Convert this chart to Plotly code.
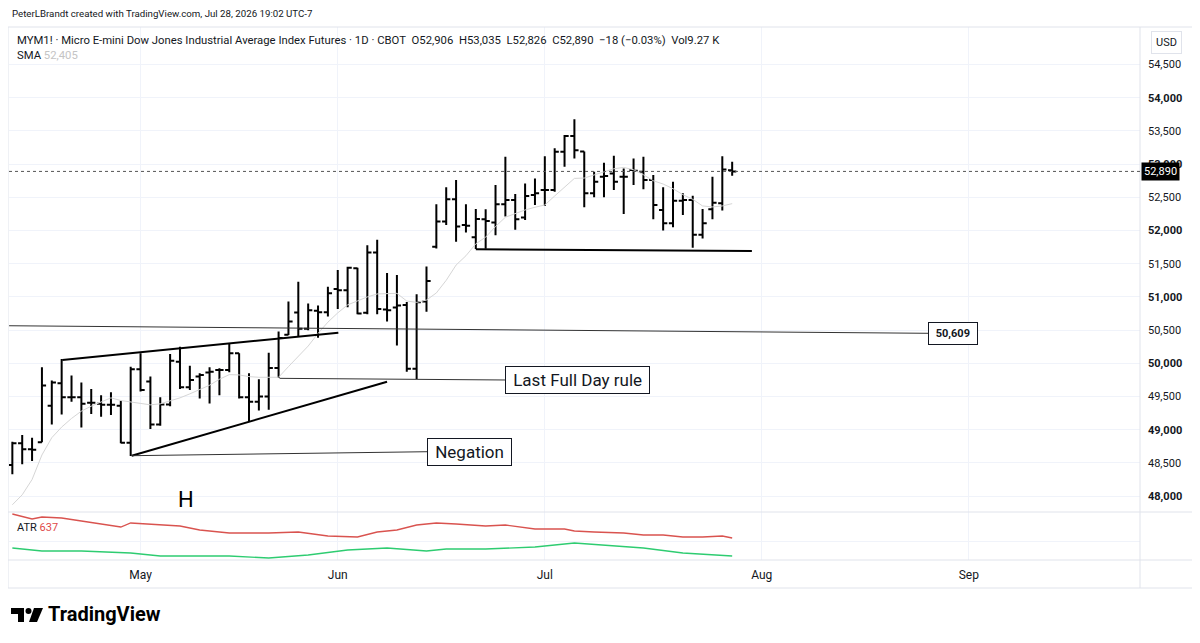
import pandas as pd
import plotly.graph_objects as go

# daily bars, Apr 14 2026 .. Jul 29 2026
opens = [48470, 48795, 48705, 48810, 49360, 49700, 49490, 49490, 49405, 49390,
         49375, 49360, 48805, 49910, 49725, 49080, 49380, 50025, 49640, 49800,
         49860, 49900, 49900, 50150, 49490, 49420, 49500, 49930, 50430, 50765,
         50520, 50790, 50770, 51120, 51100, 51430, 50760, 51670, 50810, 50840,
         50880, 49920, 50930, 51755, 52135, 52470, 52085, 51900, 52170, 52120,
         52395, 52460, 52195, 52535, 52610, 52610, 53185, 53425, 53190, 52560,
         52810, 52860, 52810, 52910, 52885, 52760, 52310, 52110, 52450, 52460,
         51935, 52320, 52410, 52906]
highs = [48820, 48920, 48880, 49940, 49740, 50065, 49815, 49710, 49615, 49520,
         49565, 49435, 49950, 50150, 49800, 49490, 50140, 50250, 49965, 49850,
         49940, 49925, 50290, 50150, 49850, 49760, 50160, 50480, 50930, 51230,
         50900, 50870, 51155, 51405, 51455, 51440, 51780, 51860, 51360, 51330,
         50925, 51040, 51460, 52395, 52650, 52760, 52395, 52325, 52320, 52685,
         53110, 52550, 52710, 52785, 53120, 53240, 53440, 53675, 53190, 52885,
         53020, 53125, 52935, 53085, 53110, 52835, 52650, 52735, 52560, 52525,
         52325, 52810, 53120, 53035]
lows = [48330, 48480, 48530, 48810, 49080, 49230, 49420, 49035, 49235, 49195,
        49220, 48795, 48605, 49575, 49010, 49060, 49355, 49615, 49600, 49470,
        49395, 49520, 49865, 49470, 49130, 49290, 49300, 49780, 50425, 50400,
        50500, 50385, 50705, 50820, 50845, 50740, 50740, 50740, 50630, 50270,
        49875, 49765, 50775, 51730, 52085, 51830, 51970, 51720, 51725, 51930,
        52210, 52010, 52160, 52385, 52370, 52585, 52960, 53085, 52350, 52500,
        52500, 52610, 52250, 52685, 52620, 52170, 52000, 52050, 52235, 51740,
        51880, 52170, 52300, 52826]
closes = [48795, 48705, 48700, 49665, 49710, 49490, 49490, 49390, 49405, 49375,
          49375, 48805, 49910, 49600, 49080, 49380, 50040, 49640, 49750, 49825,
          49875, 49900, 50150, 49490, 49420, 49500, 49930, 50380, 50630, 50520,
          50800, 50770, 51055, 51100, 51440, 50750, 51670, 50820, 50800, 50870,
          49920, 50920, 51240, 52135, 52470, 52060, 52070, 52175, 52145, 52395,
          52460, 52170, 52520, 52560, 52610, 53185, 53425, 53210, 52560, 52735,
          52820, 52735, 52810, 52900, 52760, 52385, 52110, 52450, 52460, 51935,
          52110, 52420, 52920, 52890]
sma = [47870, 48020, 48250, 48620, 48880, 49040, 49170, 49280, 49355, 49420,
       49480, 49440, 49422, 49400, 49375, 49390, 49430, 49480, 49540, 49610,
       49670, 49760, 49830, 49825, 49800, 49790, 49790, 49790, 49950, 50110,
       50260, 50450, 50620, 50760, 50880, 50940, 51000, 51045, 51055, 51054,
       50938, 50918, 50953, 51060, 51250, 51480, 51620, 51800, 51900, 52060,
       52200, 52260, 52310, 52350, 52385, 52520, 52660, 52785, 52790, 52840,
       52885, 52930, 52950, 52915, 52840, 52750, 52700, 52630, 52540, 52470,
       52370, 52355, 52370, 52405]

# lower pane lines, sampled at bar indexes
atr_idx = [0, 2, 3, 5, 7, 11, 12, 14, 17, 19, 22, 26, 29, 32, 35, 37, 39, 41,
           43, 45, 48, 50, 53, 56, 57, 59, 62, 64, 66, 68, 70, 72, 73]
atr_vals = [877, 827, 847, 837, 807, 747, 787, 777, 757, 717, 687, 687, 697, 657,
            647, 697, 717, 767, 787, 777, 757, 767, 727, 727, 707, 697, 687, 667,
            667, 647, 647, 657, 637]
atr2_idx = [0, 3, 7, 12, 15, 22, 26, 30, 34, 38, 42, 44, 48, 53, 57, 61, 64, 68, 73]
atr2_vals = [537, 507, 507, 487, 457, 457, 437, 467, 517, 537, 507, 527, 527, 547,
             587, 557, 537, 487, 457]

holidays = ["2026-05-25", "2026-06-19", "2026-07-03", "2026-09-07"]
month_labels = ["May", "Jun", "Jul", "Aug", "Sep"]
price_ticks = [48000, 48500, 49000, 49500, 50000, 50500, 51000, 51500,
               52000, 52500, 53000, 53500, 54000, 54500]

# hand drawn lines: (bar index list, price list)
wedge_top = ([5.07, 33.06], [50050, 50461])
wedge_bottom = ([12.1, 38.0], [48609, 49723])
negation_line = ([12.1, 42.1], [48609, 48669])
lastday_line = ([27.1, 50.0], [49774, 49749])
support_line = ([47.0, 75.0], [51717, 51691])
level_line = ([-0.33, 92.9], [50566, 50452])
last_price = 52890

INK = "#131722"
GRID = "#f0f3fa"
BORDER = "#e0e3eb"
FONT = "Roboto"

# plot area in screen pixels; the page body adds an 8px offset
OFF = 8
L, R, T, B = 9, 1140, 27, 560
FIG_W, FIG_H = 1200 - OFF, 643 - OFF


def px(x):
    return (x - L) / (R - L)


def py(y):
    return (B - y) / (B - T)


days = pd.bdate_range("2026-04-14", "2026-09-30")
days = days[~days.isin(pd.to_datetime(holidays))]
month_idx = [i for i in range(1, len(days)) if days[i].month != days[i - 1].month]
bar_x = list(range(len(closes)))

fig = go.Figure()
fig.add_trace(go.Scatter(x=bar_x, y=sma, mode="lines",
                         line=dict(color="#d6d6d6", width=1), hoverinfo="skip"))
fig.add_trace(go.Ohlc(x=bar_x, open=opens, high=highs, low=lows, close=closes,
                      text=[d.strftime("%b %d") for d in days[:len(closes)]],
                      increasing_line=dict(color="#000000", width=2),
                      decreasing_line=dict(color="#000000", width=2),
                      tickwidth=0.42))

for line, w, c in [(wedge_top, 2, "#000000"), (wedge_bottom, 2, "#000000"),
                   (support_line, 2, "#000000"), (negation_line, 1, "#333333"),
                   (lastday_line, 1, "#333333"), (level_line, 1, "#333333")]:
    fig.add_trace(go.Scatter(x=line[0], y=line[1], mode="lines",
                             line=dict(color=c, width=w), hoverinfo="skip"))

fig.add_trace(go.Scatter(x=atr_idx, y=atr_vals, mode="lines", xaxis="x2", yaxis="y2",
                         line=dict(color="#d9534f", width=1.3), hoverinfo="skip"))
fig.add_trace(go.Scatter(x=atr2_idx, y=atr2_vals, mode="lines", xaxis="x2", yaxis="y2",
                         line=dict(color="#2ecc71", width=1.3), hoverinfo="skip"))

pane_split = py(512)
fig.update_layout(
    width=FIG_W, height=FIG_H,
    margin=dict(l=L - OFF, r=1200 - R, t=T - OFF, b=643 - B),
    paper_bgcolor="white", plot_bgcolor="white",
    showlegend=False,
    font=dict(family=FONT, color=INK),
    xaxis=dict(domain=[0, 1], anchor="y", range=[-0.34, 114.36], matches="x2",
               tickvals=month_idx, showticklabels=False, showgrid=True,
               gridcolor=GRID, zeroline=False, rangeslider=dict(visible=False)),
    yaxis=dict(domain=[pane_split, 1], anchor="x", side="right",
               range=[47761, 55065], tickvals=price_ticks,
               ticktext=[("<b>%s</b>" if p % 1000 == 0 else "%s") % f"{p:,}"
                         for p in price_ticks],
               tickfont=dict(size=11, color=INK), ticklabelstandoff=7,
               showgrid=True, gridcolor=GRID, zeroline=False),
    xaxis2=dict(domain=[0, 1], anchor="y2", range=[-0.34, 114.36],
                tickvals=month_idx, ticktext=month_labels,
                tickfont=dict(size=12, color=INK), ticklabelstandoff=6,
                showgrid=True, gridcolor=GRID, zeroline=False),
    yaxis2=dict(domain=[0, pane_split], anchor="x2", side="right", range=[417, 897],
                tickvals=[600], showticklabels=False, showgrid=True,
                gridcolor=GRID, zeroline=False),
)

shapes = [
    dict(type="rect", xref="paper", yref="paper", x0=px(8), x1=px(1195),
         y0=py(588), y1=py(27), line=dict(color=BORDER, width=1)),
    dict(type="line", xref="paper", yref="paper", x0=px(R), x1=px(R),
         y0=py(588), y1=py(27), line=dict(color=BORDER, width=1)),
    dict(type="line", xref="paper", yref="paper", x0=px(8), x1=px(1195),
         y0=py(512), y1=py(512), line=dict(color=BORDER, width=1)),
    dict(type="line", xref="paper", yref="paper", x0=px(8), x1=px(1195),
         y0=py(560), y1=py(560), line=dict(color=BORDER, width=1)),
    dict(type="line", xref="paper", yref="y", x0=0, x1=1, y0=last_price, y1=last_price,
         line=dict(color="#555555", width=1, dash="dot")),
    # TradingView logo mark
    dict(type="path", xref="paper", yref="paper", fillcolor="#000000", line_width=0,
         path=f"M {px(11)},{py(608)} L {px(24)},{py(608)} L {px(24)},{py(622)} "
              f"L {px(18)},{py(622)} L {px(18)},{py(614)} L {px(11)},{py(614)} Z"),
    dict(type="circle", xref="paper", yref="paper", fillcolor="#000000", line_width=0,
         x0=px(25.5), x1=px(31.5), y0=py(614), y1=py(608)),
    dict(type="path", xref="paper", yref="paper", fillcolor="#000000", line_width=0,
         path=f"M {px(34)},{py(608)} L {px(43)},{py(608)} L {px(37)},{py(622)} "
              f"L {px(29)},{py(622)} Z"),
]
fig.update_layout(shapes=shapes)

nb = "\u00a0"
legend = (f"MYM1! · Micro E-mini Dow Jones Industrial Average Index Futures · 1D · CBOT"
          f"{nb*2}O52,906{nb*2}H53,035{nb*2}L52,826{nb*2}C52,890{nb*2}−18 (−0.03%){nb*2}Vol9.27{nb}K")

ann = [
    dict(text="PeterLBrandt created with TradingView.com, Jul 28, 2026 19:02 UTC-7",
         x=px(10), y=py(14), font=dict(size=9.7)),
    dict(text=legend, x=px(15), y=py(40), font=dict(size=11.3)),
    dict(text=f"SMA{nb}<span style='color:#c4c4c4'>52,405</span>",
         x=px(15), y=py(56), font=dict(size=11.3)),
    dict(text=f"ATR{nb}<span style='color:#e04848'>637</span>",
         x=px(15), y=py(527), font=dict(size=11)),
    dict(text="H", x=px(176), y=py(499), font=dict(size=22, color="#000000")),
    dict(text="<b>TradingView</b>", x=px(46), y=py(614),
         font=dict(size=20, color="#000000")),
]
for a in ann:
    fig.add_annotation(xref="paper", yref="paper", xanchor="left", yanchor="middle",
                       showarrow=False, **a)

fig.add_annotation(xref="paper", yref="paper", x=px(1166), y=py(42), text="USD",
                   xanchor="center", yanchor="middle",
                   showarrow=False, font=dict(size=11, color=INK), bgcolor="white",
                   bordercolor=BORDER, borderwidth=1, borderpad=4)
fig.add_annotation(xref="paper", yref="y", x=px(1141), y=last_price, xanchor="left",
                   yanchor="middle", text="52,890", showarrow=False,
                   font=dict(size=11, color="white"), bgcolor="#000000", borderpad=2)

boxes = [(f"{nb}Last Full Day rule{nb}", lastday_line, 17, 3),
         (f"{nb}Negation{nb}", negation_line, 17, 3),
         (f"{nb}<b>50,609</b>{nb}", level_line, 11, 4)]
for txt, line, size, pad in boxes:
    fig.add_annotation(xref="x", yref="y", x=line[0][1], y=line[1][1], xanchor="left",
                       yanchor="middle", text=txt, showarrow=False,
                       font=dict(size=size, color=INK),
                       bgcolor="white", bordercolor=INK, borderwidth=1, borderpad=pad)

fig.write_html("out.html")
